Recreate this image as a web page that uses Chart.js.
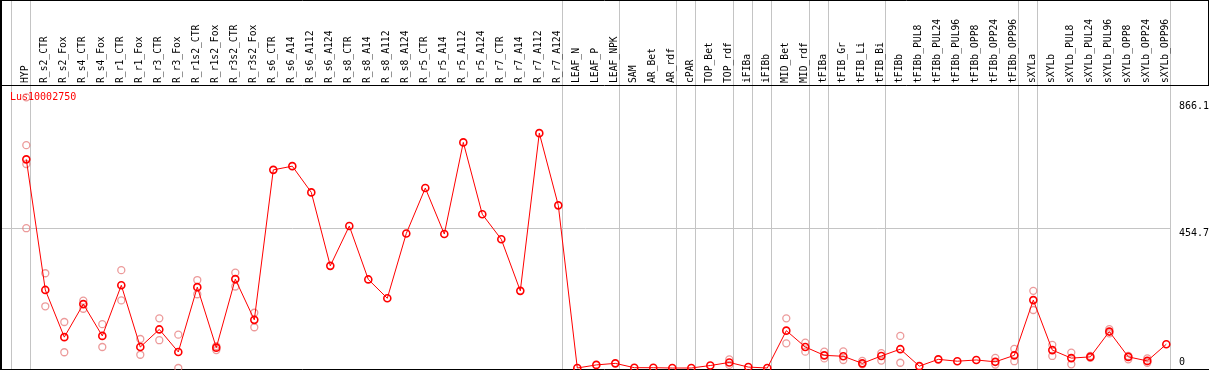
<!DOCTYPE html>
<html>
<head>
<meta charset="utf-8">
<script src="https://cdn.jsdelivr.net/npm/chart.js@4/dist/chart.umd.min.js"></script>
<style>
html,body{margin:0;padding:0;background:#fff;overflow:hidden;}
#c{display:block;}
</style>
</head>
<body>
<canvas id="c" width="1209" height="370"></canvas>
<script>
const chartTitle = 'Lus10002750';
const categories = ['HYP','R_s2_CTR','R_s2_Fox','R_s4_CTR','R_s4_Fox','R_r1_CTR','R_r1_Fox','R_r3_CTR','R_r3_Fox','R_r1s2_CTR','R_r1s2_Fox','R_r3s2_CTR','R_r3s2_Fox','R_s6_CTR','R_s6_A14','R_s6_A112','R_s6_A124','R_s8_CTR','R_s8_A14','R_s8_A112','R_s8_A124','R_r5_CTR','R_r5_A14','R_r5_A112','R_r5_A124','R_r7_CTR','R_r7_A14','R_r7_A112','R_r7_A124','LEAF_N','LEAF_P','LEAF_NPK','SAM','AR_Bet','AR_rdf','cPAR','TOP_Bet','TOP_rdf','iFIBa','iFIBb','MID_Bet','MID_rdf','tFIBa','tFIB_Gr','tFIB_Li','tFIB_Bi','tFIBb','tFIBb_PUL8','tFIBb_PUL24','tFIBb_PUL96','tFIBb_OPP8','tFIBb_OPP24','tFIBb_OPP96','sXYLa','sXYLb','sXYLb_PUL8','sXYLb_PUL24','sXYLb_PUL96','sXYLb_OPP8','sXYLb_OPP24','sXYLb_OPP96'];
const meanValues = [676,253,100,207,104,268,68,125,52,262,66,288,156,642,654,569,331,460,287,226,436,583,434,731,498,417,250,761,527,0,10,15,1,1,0,0,8,18,3,0,121,68,41,38,15,39,61,6,28,22,26,20,41,220,58,32,36,118,36,23,77];
const rep1 = [877,307,149,218,142,317,94,161,108,285,71,309,179,null,null,null,null,null,null,null,null,null,null,null,null,null,null,null,null,null,null,null,null,null,null,null,null,28,null,null,161,82,53,54,23,48,104,null,null,null,null,33,62,250,75,50,39,126,39,31,null];
const rep2 = [722,200,51,192,68,219,43,90,0,239,58,264,132,null,null,null,null,null,null,null,null,null,null,null,null,null,null,null,null,null,null,null,null,null,null,null,null,10,null,null,80,53,31,26,12,24,17,null,null,null,null,11,22,188,39,12,33,112,28,17,null];
const rep3 = [661,null,null,null,null,null,null,null,null,null,null,null,null,null,null,null,null,null,null,null,null,null,null,null,null,null,null,null,null,null,null,null,null,null,null,null,null,null,null,null,null,null,null,null,null,null,null,null,null,null,null,null,null,null,null,null,null,null,null,null,null];
const rep4 = [453,null,null,null,null,null,null,null,null,null,null,null,null,null,null,null,null,null,null,null,null,null,null,null,null,null,null,null,null,null,null,null,null,null,null,null,null,null,null,null,null,null,null,null,null,null,null,null,null,null,null,null,null,null,null,null,null,null,null,null,null];
const yTickValues = [0, 454.7, 866.1];
const yTickLabels = ['0', '454.7', '866.1'];
const groupEnds = [-1, 0, 28, 31, 34, 35, 37, 38, 39, 41, 42, 45, 52, 53, 60];

const FONT = '10px "DejaVu Sans Mono", monospace';
const HEADER_FONT = '9.7px "DejaVu Sans Mono", monospace';

const decor = {
  id: 'decor',
  beforeDraw(chart) {
    const ctx = chart.ctx;
    const xs = chart.scales.x, ys = chart.scales.y;
    const W = chart.width, H = chart.height;
    ctx.save();
    ctx.fillStyle = '#fff';
    ctx.fillRect(0, 0, W, H);
    const x0 = xs.getPixelForValue(0);
    const step = xs.getPixelForValue(1) - x0;
    // vertical group lines
    ctx.strokeStyle = '#c4c4c4';
    ctx.lineWidth = 1;
    let lastX = 0;
    groupEnds.forEach(g => {
      const x = Math.round(x0 + step * g + 4) + 0.5;
      lastX = x;
      ctx.beginPath(); ctx.moveTo(x, 0); ctx.lineTo(x, H); ctx.stroke();
    });
    // horizontal mid grid line
    const ym = Math.round(ys.getPixelForValue(yTickValues[1])) + 0.5;
    ctx.beginPath(); ctx.moveTo(0, ym); ctx.lineTo(lastX, ym); ctx.stroke();
    // black frame lines
    ctx.strokeStyle = '#000';
    ctx.lineWidth = 1;
    ctx.beginPath(); ctx.moveTo(0, 0.5); ctx.lineTo(W, 0.5); ctx.stroke();
    ctx.beginPath(); ctx.moveTo(0, 85.5); ctx.lineTo(W, 85.5); ctx.stroke();
    ctx.beginPath(); ctx.moveTo(0, 369.5); ctx.lineTo(W, 369.5); ctx.stroke();
    ctx.lineWidth = 2;
    ctx.beginPath(); ctx.moveTo(1, 0); ctx.lineTo(1, H); ctx.stroke();
    ctx.lineWidth = 1;
    ctx.beginPath(); ctx.moveTo(1208.5, 0); ctx.lineTo(1208.5, 85); ctx.stroke();
    // header labels
    ctx.fillStyle = '#000';
    ctx.font = HEADER_FONT;
    ctx.textAlign = 'left';
    ctx.textBaseline = 'middle';
    categories.forEach((c, i) => {
      const x = xs.getPixelForValue(i) - 1;
      ctx.save();
      ctx.translate(x, 83);
      ctx.rotate(-Math.PI / 2);
      ctx.fillText(c, 0, 0);
      ctx.restore();
    });
    // y tick labels
    ctx.font = FONT;
    yTickValues.forEach((v, i) => {
      const y = ys.getPixelForValue(v);
      ctx.fillText(yTickLabels[i], 1179, v === 0 ? y - 6 : y + 5.5);
    });
    // title
    ctx.fillStyle = '#ff0000';
    ctx.fillText(chartTitle, 10, 97);
    ctx.restore();
  }
};

const repStyle = {
  showLine: false,
  pointRadius: 3.5,
  pointBorderWidth: 1.3,
  pointBorderColor: 'rgba(230,120,120,0.75)',
  pointBackgroundColor: 'rgba(0,0,0,0)',
  borderColor: 'rgba(230,120,120,0.75)',
  clip: false,
  spanGaps: false
};

new Chart(document.getElementById('c'), {
  type: 'line',
  data: {
    labels: categories,
    datasets: [
      {
        data: meanValues,
        borderColor: '#ff0000',
        borderWidth: 1,
        pointRadius: 3.5,
        pointBorderWidth: 1.6,
        pointBorderColor: '#ff0000',
        pointBackgroundColor: 'rgba(0,0,0,0)',
        tension: 0,
        clip: false
      },
      Object.assign({ data: rep1 }, repStyle),
      Object.assign({ data: rep2 }, repStyle),
      Object.assign({ data: rep3 }, repStyle),
      Object.assign({ data: rep4 }, repStyle)
    ]
  },
  options: {
    responsive: false,
    animation: false,
    events: [],
    layout: { autoPadding: false, padding: { left: 16.8, right: 33.2, top: 100.7, bottom: 2 } },
    scales: {
      x: { display: false, offset: true },
      y: { display: false, min: 0, max: 866.1 }
    },
    plugins: { legend: { display: false }, tooltip: { enabled: false }, title: { display: false } }
  },
  plugins: [decor]
});
</script>
</body>
</html>
